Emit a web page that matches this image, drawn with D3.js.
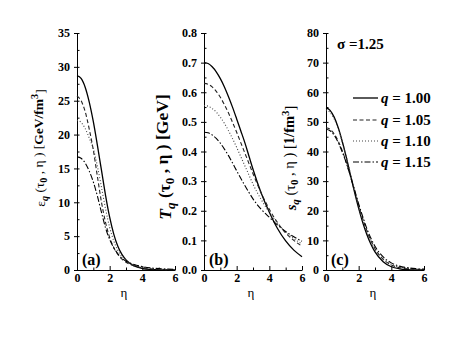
<!DOCTYPE html>
<html>
<head>
<meta charset="utf-8">
<script src="https://cdn.jsdelivr.net/npm/d3@7"></script>
<style>
  body { margin: 0; background: #fff; }
  text { font-family: "Liberation Serif", "Times New Roman", "DejaVu Serif", serif; font-weight: bold; }
</style>
</head>
<body>
<div id="chart"></div>
<script>
// rapidity grid shared by all curves
var eta = [0, 0.25, 0.5, 0.75, 1, 1.25, 1.5, 1.75, 2, 2.25, 2.5, 2.75, 3, 3.5, 4, 4.5, 5, 5.5, 6];

var qLabels = ["1.00", "1.05", "1.10", "1.15"];

// (a) energy density [GeV/fm^3]
var eps100 = [28.7, 28.3, 27.0, 24.8, 21.9, 18.4, 14.7, 11.0, 7.8, 5.3, 3.5, 2.3, 1.5, 0.6, 0.22, 0.08, 0.03, 0.01, 0];
var eps105 = [25.7, 25.0, 23.4, 20.8, 17.7, 13.8, 10.0, 7.0, 4.8, 3.3, 2.3, 1.6, 1.15, 0.6, 0.33, 0.18, 0.1, 0.06, 0.04];
var eps110 = [22.1, 21.8, 20.9, 19.5, 17.9, 15.3, 12.2, 9.0, 6.3, 4.3, 2.9, 2.0, 1.4, 0.75, 0.42, 0.24, 0.14, 0.09, 0.05];
var eps115 = [16.7, 16.5, 15.8, 14.6, 13.0, 10.9, 8.5, 6.2, 4.5, 3.3, 2.4, 1.75, 1.3, 0.8, 0.5, 0.32, 0.21, 0.14, 0.1];

// (b) temperature [GeV]
var T100 = [0.70, 0.697, 0.686, 0.669, 0.646, 0.618, 0.585, 0.549, 0.51, 0.47, 0.43, 0.385, 0.34, 0.26, 0.195, 0.14, 0.098, 0.067, 0.045];
var T105 = [0.63, 0.627, 0.618, 0.603, 0.583, 0.558, 0.53, 0.498, 0.465, 0.43, 0.395, 0.36, 0.325, 0.26, 0.205, 0.16, 0.125, 0.1, 0.08];
var T110 = [0.555, 0.553, 0.545, 0.533, 0.516, 0.495, 0.47, 0.443, 0.414, 0.383, 0.352, 0.321, 0.29, 0.238, 0.195, 0.158, 0.128, 0.106, 0.088];
var T115 = [0.465, 0.463, 0.456, 0.444, 0.428, 0.408, 0.386, 0.361, 0.335, 0.31, 0.285, 0.262, 0.24, 0.205, 0.178, 0.152, 0.13, 0.112, 0.097];

// (c) entropy density [1/fm^3]
var s100 = [54.7, 53.9, 51.6, 48.0, 43.3, 37.9, 32.0, 26.2, 20.8, 16.0, 12.0, 8.7, 6.1, 2.8, 1.1, 0.4, 0.14, 0.05, 0.02];
var s105 = [48.0, 47.5, 46.0, 43.5, 40.2, 36.2, 31.6, 26.7, 21.8, 17.3, 13.3, 9.9, 7.2, 3.6, 1.7, 0.8, 0.4, 0.2, 0.1];
var s110 = [54.0, 53.2, 51.0, 47.6, 43.2, 38.0, 32.4, 26.8, 21.5, 16.8, 12.8, 9.5, 7.0, 3.7, 1.9, 1.0, 0.55, 0.3, 0.18];
var s115 = [47.5, 47.0, 45.5, 43.0, 39.8, 36.0, 31.6, 27.0, 22.3, 18.0, 14.0, 10.7, 8.0, 4.4, 2.4, 1.3, 0.75, 0.45, 0.28];

var etaTicks = [0, 2, 4, 6];
var etaMinor = [1, 3, 5];
var epsTicks = [0, 5, 10, 15, 20, 25, 30, 35];
var TTicks = [0, 0.1, 0.2, 0.3, 0.4, 0.5, 0.6, 0.7, 0.8];
var sTicks = [0, 10, 20, 30, 40, 50, 60, 70, 80];

var W = 463, H = 337;
var plotTop = 33, plotBottom = 270, pw = 98;

var dashes = [null, "4,2.5", "1,2", "6,2,1.5,2"];
var colors = ["#000", "#222", "#444", "#000"];

var panels = [
  {left: 77, max: 35, ticks: epsTicks, minor: 2.5, fmt: d3.format("d"), series: [eps100, eps105, eps110, eps115], tag: "(a)"},
  {left: 204, max: 0.8, ticks: TTicks, minor: 0.05, fmt: d3.format(".1f"), series: [T100, T105, T110, T115], tag: "(b)"},
  {left: 326, max: 80, ticks: sTicks, minor: 5, fmt: d3.format("d"), series: [s100, s105, s110, s115], tag: "(c)"}
];

var svg = d3.select("#chart").append("svg")
  .attr("width", W)
  .attr("height", H)
  .style("background", "#fff");

function tickFont(g) {
  g.selectAll("text")
    .style("font-size", "12px")
    .style("font-family", "'Liberation Serif', 'Times New Roman', serif")
    .style("font-weight", "bold");
}

panels.forEach(function(p) {
  var x = d3.scaleLinear().domain([0, 6]).range([p.left, p.left + pw]);
  var y = d3.scaleLinear().domain([0, p.max]).range([plotBottom, plotTop]);

  var minorVals = d3.range(0, p.max + p.minor / 2, p.minor);

  // y axis: labelled majors outside, all ticks inside
  svg.append("g")
    .attr("transform", "translate(" + p.left + ",0)")
    .call(d3.axisLeft(y).tickValues(p.ticks).tickFormat(p.fmt).tickSize(3).tickSizeOuter(0).tickPadding(4))
    .call(tickFont);
  svg.append("g")
    .attr("transform", "translate(" + p.left + ",0)")
    .call(d3.axisRight(y).tickValues(minorVals).tickSize(2.5).tickFormat(""))
    .call(g => g.select(".domain").remove());

  // x axis: ticks point up into the plot
  svg.append("g")
    .attr("transform", "translate(0," + plotBottom + ")")
    .call(d3.axisBottom(x).tickValues(etaTicks).tickFormat(d3.format("d")).tickSize(-4).tickSizeOuter(0).tickPadding(3))
    .call(tickFont);
  svg.append("g")
    .attr("transform", "translate(0," + plotBottom + ")")
    .call(d3.axisBottom(x).tickValues(etaMinor).tickSize(-2.5).tickFormat(""))
    .call(g => g.select(".domain").remove());

  var line = d3.line()
    .x((d, i) => x(eta[i]))
    .y(d => y(d))
    .curve(d3.curveMonotoneX);

  p.series.forEach(function(vals, k) {
    svg.append("path")
      .datum(vals)
      .attr("d", line)
      .attr("fill", "none")
      .attr("stroke", colors[k])
      .attr("stroke-width", k == 0 ? 1.3 : 1.1)
      .attr("stroke-dasharray", dashes[k]);
  });

  svg.append("text")
    .attr("x", p.left + 5)
    .attr("y", 265)
    .style("font-size", "16px")
    .text(p.tag);

  svg.append("text")
    .attr("x", p.left + pw / 2 - 2)
    .attr("y", 297)
    .attr("text-anchor", "middle")
    .style("font-size", "13px")
    .style("font-weight", "normal")
    .text("η");
});

// y axis titles, rotated
function ytitle(xp, yc, size, parts) {
  var t = svg.append("text")
    .attr("transform", "translate(" + xp + "," + yc + ") rotate(-90)")
    .attr("text-anchor", "middle")
    .style("font-size", size + "px");
  parts.forEach(function(s) {
    var ts = t.append("tspan").text(s[0]);
    if (s[1]) ts.style("font-weight", s[1]);
    if (s[2]) ts.style("font-style", s[2]);
    if (s[3]) ts.style("font-size", s[3]);
    if (s[4]) ts.attr("dy", s[4]);
  });
}

ytitle(45, 148, 13.5, [
  ["ε", "normal"], ["q", "bold", "italic", "75%", "0.3em"], [" (τ", "normal", null, null, "-0.3em"],
  ["0", "bold", null, "75%", "0.3em"], [" , η ) [", "normal", null, null, "-0.3em"], ["GeV/fm"],
  ["3", "bold", null, "75%", "-0.45em"], ["]", "normal", null, null, "0.45em"]
]);

ytitle(171, 157, 17.5, [
  ["T", "bold", "italic"], ["q", "bold", "italic", "75%", "0.3em"], [" (τ", null, null, null, "-0.3em"],
  ["0", "bold", null, "75%", "0.3em"], [" , η ) [GeV]", null, null, null, "-0.3em"]
]);

ytitle(296, 158, 14.5, [
  ["s", "bold", "italic"], ["q", "bold", "italic", "75%", "0.3em"], [" (τ", "normal", null, null, "-0.3em"],
  ["0", "bold", null, "75%", "0.3em"], [" , η ) [", "normal", null, null, "-0.3em"], ["1/fm"],
  ["3", "bold", null, "75%", "-0.45em"], ["]", "normal", null, null, "0.45em"]
]);

// sigma note
svg.append("text")
  .attr("x", 337)
  .attr("y", 49)
  .style("font-size", "15px")
  .text("σ =1.25");

// legend
var legY = [98, 120, 141, 162];
qLabels.forEach(function(q, k) {
  svg.append("line")
    .attr("x1", 353).attr("x2", 378)
    .attr("y1", legY[k]).attr("y2", legY[k])
    .attr("stroke", colors[k])
    .attr("stroke-width", k == 0 ? 1.3 : 1.1)
    .attr("stroke-dasharray", dashes[k]);
  var t = svg.append("text")
    .attr("x", 381)
    .attr("y", legY[k] + 5)
    .style("font-size", "15px");
  t.append("tspan").style("font-style", "italic").text("q");
  t.append("tspan").text(" = " + q);
});
</script>
</body>
</html>
